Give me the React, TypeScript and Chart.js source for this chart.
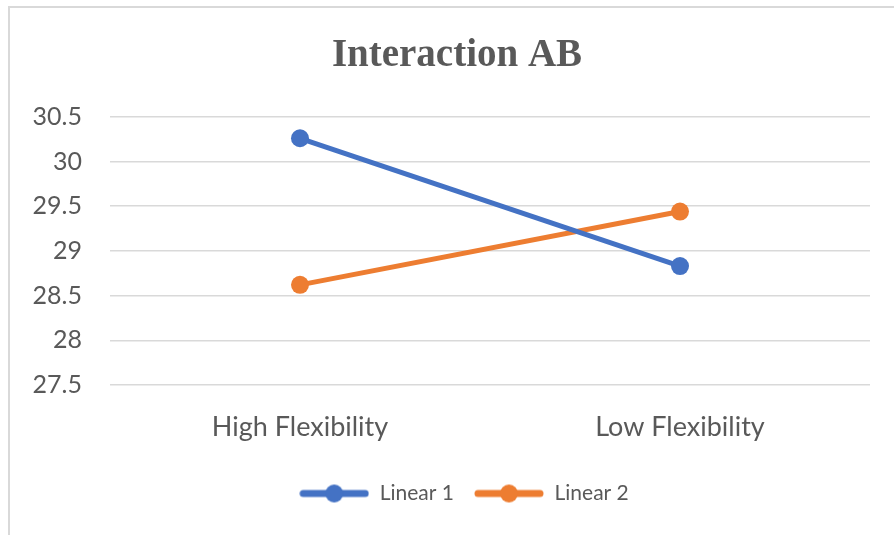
import React, { useEffect, useRef } from "react";
import { Chart, registerables } from "chart.js";

Chart.register(...registerables);

const categories = ["High Flexibility", "Low Flexibility"];
const linear1 = [30.26, 28.83];
const linear2 = [28.62, 29.44];
const seriesNames = ["Linear 1", "Linear 2"];
const yMin = 27.5;
const yMax = 30.5;
const yStep = 0.5;

const BLUE = "#4472C4";
const ORANGE = "#ED7D31";
const TEXT = "#595959";
const GRID = "#d9d9d9";
const SANS = "Lato, 'Open Sans', sans-serif";

function legendIcon(color: string): HTMLCanvasElement {
  const c = document.createElement("canvas");
  c.width = 70;
  c.height = 20;
  const ctx = c.getContext("2d")!;
  ctx.strokeStyle = color;
  ctx.lineWidth = 7;
  ctx.lineCap = "round";
  ctx.beginPath();
  ctx.moveTo(4, 10);
  ctx.lineTo(66, 10);
  ctx.stroke();
  ctx.fillStyle = color;
  ctx.beginPath();
  ctx.arc(35, 10, 9, 0, Math.PI * 2);
  ctx.fill();
  return c;
}

// shifts the title and legend boxes horizontally (Excel centres them on the whole chart frame)
const shiftBoxes = {
  id: "shiftBoxes",
  afterLayout(chart: any) {
    const t = chart.titleBlock;
    if (t) {
      t.left += 17;
      t.right += 17;
    }
    const l = chart.legend;
    if (l) {
      l.left += 24;
      l.right += 24;
    }
  },
};

export default function App() {
  const ref = useRef<HTMLCanvasElement | null>(null);

  useEffect(() => {
    if (!ref.current) return;
    const icons = [legendIcon(BLUE), legendIcon(ORANGE)];
    const chart = new Chart(ref.current, {
      type: "line",
      data: {
        labels: categories,
        datasets: [
          {
            label: seriesNames[0],
            data: linear1,
            borderColor: BLUE,
            backgroundColor: BLUE,
            borderWidth: 5,
            pointRadius: 9,
            pointHoverRadius: 9,
            pointBackgroundColor: BLUE,
            pointBorderWidth: 0,
          },
          {
            label: seriesNames[1],
            data: linear2,
            borderColor: ORANGE,
            backgroundColor: ORANGE,
            borderWidth: 5,
            pointRadius: 9,
            pointHoverRadius: 9,
            pointBackgroundColor: ORANGE,
            pointBorderWidth: 0,
          },
        ],
      },
      plugins: [shiftBoxes],
      options: {
        animation: false,
        responsive: false,
        maintainAspectRatio: false,
        layout: { padding: { left: 0, right: 24, top: 0, bottom: 21 } },
        plugins: {
          title: {
            display: true,
            text: "Interaction AB",
            color: TEXT,
            font: { family: "'Liberation Serif', 'Times New Roman', serif", size: 39, weight: "bold" },
            padding: { top: 25, bottom: 37 },
          },
          legend: {
            display: true,
            position: "bottom",
            labels: {
              usePointStyle: true,
              pointStyleWidth: 70,
              boxHeight: 20,
              padding: 20,
              color: TEXT,
              font: { family: SANS, size: 21 },
              generateLabels: (ch: any) => {
                const items = Chart.defaults.plugins.legend.labels.generateLabels(ch);
                return items.map((it: any, i: number) => ({ ...it, pointStyle: icons[i] }));
              },
            },
          },
          tooltip: { enabled: false },
        },
        scales: {
          x: {
            offset: true,
            grid: { display: false, drawTicks: false },
            border: { display: false },
            ticks: { color: TEXT, font: { family: SANS, size: 27 }, padding: 26 },
            afterFit: (s: any) => {
              s.height = 78;
            },
          },
          y: {
            min: yMin,
            max: yMax,
            grid: { color: GRID, lineWidth: 1.5, drawTicks: false },
            border: { display: false },
            ticks: {
              stepSize: yStep,
              color: TEXT,
              font: { family: SANS, size: 25 },
              padding: 28,
              callback: (v: any) => String(Math.round(Number(v) * 10) / 10),
            },
            afterFit: (s: any) => {
              s.width = 100;
            },
          },
        },
      },
    });
    return () => chart.destroy();
  }, []);

  return (
    <div
      style={{
        position: "fixed",
        left: 8,
        top: 6,
        width: 886,
        height: 529,
        borderTop: "2px solid #d9d9d9",
        borderLeft: "2px solid #d9d9d9",
        background: "#fff",
      }}
    >
      <canvas ref={ref} width={884} height={527} style={{ display: "block" }} />
    </div>
  );
}
